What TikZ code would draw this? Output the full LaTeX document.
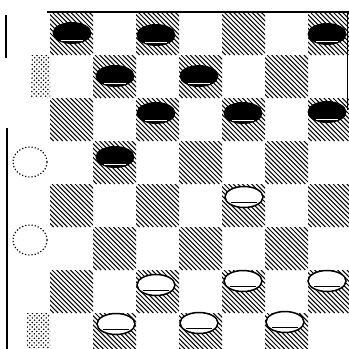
\documentclass[tikz,border=0pt]{standalone}
\begin{document}
\begin{tikzpicture}[x=1pt,y=-1pt,
  hatch/.style={line width=1.05pt},
  lighthatch/.style={line width=1.2pt, dotted},
  blackpiece/.style={fill=black},
  whitepiece/.style={draw=black, fill=white, line width=1.5pt},
  ghost/.style={draw=black, dotted, line width=1.2pt},
  border/.style={line width=1.6pt}]
\useasboundingbox (0,0) rectangle (349,349);
\fill[white] (0,0) rectangle (349,349);
% hatched dark squares
\begin{scope}
\clip (7,12) rectangle (349,349);
\foreach \r in {0,...,7}{
  \foreach \c in {1,...,7}{
    \pgfmathtruncatemacro{\odd}{mod(\r+\c,2)}
    \ifnum\odd=1
      \begin{scope}
        \clip (7+43*\c, 12+43*\r) rectangle ++(43,43);
        \foreach \k in {-44,-39.4,...,44}
          \draw[hatch] (7+43*\c+\k, 12+43*\r) -- ++(43,43);
      \end{scope}
    \fi
  }}
% faded left column
\begin{scope}
  \clip (31, 55) rectangle (50, 98);
  \foreach \k in {-44,-39.4,...,44}
    \draw[lighthatch] (7+\k, 55) -- ++(43,43);
\end{scope}
\begin{scope}
  \clip (27, 313) rectangle (50, 356);
  \foreach \k in {-44,-39.4,...,44}
    \draw[lighthatch] (7+\k, 313) -- ++(43,43);
\end{scope}
\end{scope}
% black pieces
\foreach \x/\y in {72/33,156/35,327/34,115/76,199/76,156/113,243/113,327/112,115/157}{
  \fill[blackpiece] (\x,\y) ellipse [x radius=19.5pt, y radius=11pt];
  \draw[white, line width=0.8pt] (\x-11,\y+7) -- (\x+11,\y+7);
}
% white pieces
\foreach \x/\y in {244/197,156/285,243/281,327/281,116/324,199/323,285/322}{
  \draw[whitepiece] (\x,\y) ellipse [x radius=19pt, y radius=10.5pt];
  \draw[line width=1pt] (\x-13,\y+5) -- (\x+13,\y+5);
}
% ghost pieces
\foreach \x/\y in {30/162,30/240}{
  \draw[ghost] (\x,\y) ellipse [x radius=17pt, y radius=15pt];
}
% border fragments
\draw[line width=2.5pt] (47,12) -- (349,12);
\draw[border] (6,15) -- (6,58);
\draw[border] (7,128) -- (7,349);
\draw[line width=1pt] (347,12) -- (347,110);
\end{tikzpicture}
\end{document}
